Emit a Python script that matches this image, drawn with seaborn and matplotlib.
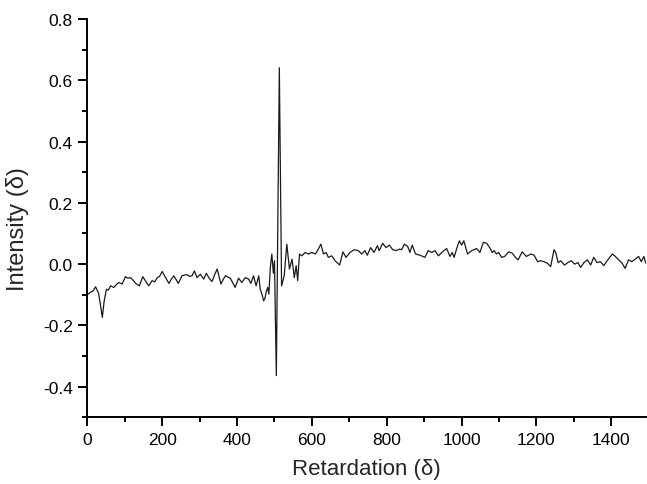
import matplotlib
matplotlib.use("Agg")
import matplotlib.pyplot as plt
from matplotlib.ticker import MultipleLocator
import seaborn as sns
import pandas as pd

retardation = [
    0, 8, 15, 22, 30, 36, 40, 45, 51, 56, 62, 71, 78, 84, 93, 102, 108, 115, 122, 129,
    139, 148, 155, 164, 173, 180, 187, 193, 200, 209, 218, 224, 231, 237, 243, 253, 262,
    267, 273, 280, 286, 293, 302, 311, 318, 325, 333, 340, 347, 352, 357, 363, 369, 375,
    382, 388, 395, 404, 413, 422, 431, 437, 444, 451, 458, 462, 467, 471, 475, 478, 482,
    485, 489, 493, 497, 500, 505, 513, 519,
    526, 533, 540, 547, 553, 558, 562, 567, 573, 582, 591, 600, 609, 615, 624, 631, 638,
    644, 653, 662, 674, 683, 691, 702, 713, 724, 733, 742, 748, 757, 766, 775, 780, 789,
    798, 807, 816, 825, 834, 840, 847, 856, 862, 868, 877, 889, 902, 911, 920, 929, 938,
    947, 960, 969, 975, 980, 987, 994, 1000, 1006, 1016, 1027, 1040, 1049, 1058, 1067,
    1075, 1082, 1087, 1093, 1099, 1107, 1115, 1126, 1135, 1144, 1151, 1162, 1173, 1185,
    1194, 1203, 1211, 1220, 1229, 1238, 1247, 1252, 1258, 1265, 1275, 1284, 1293, 1302,
    1311, 1318, 1327, 1336, 1345, 1353, 1362, 1371, 1380, 1389, 1403, 1411, 1422, 1428,
    1437, 1446, 1455, 1464, 1473, 1480, 1487, 1492,
]

intensity = [
    -0.100, -0.092, -0.088, -0.074, -0.095, -0.140, -0.174, -0.120, -0.082, -0.085,
    -0.071, -0.076, -0.066, -0.060, -0.065, -0.041, -0.046, -0.044, -0.052, -0.063,
    -0.071, -0.041, -0.054, -0.071, -0.054, -0.058, -0.044, -0.040, -0.024, -0.044,
    -0.063, -0.050, -0.038, -0.050, -0.063, -0.038, -0.035,
    -0.035, -0.040, -0.038, -0.022, -0.044, -0.033, -0.049, -0.030, -0.045, -0.057,
    -0.035, -0.016, -0.040, -0.065, -0.050, -0.038, -0.042, -0.046, -0.060, -0.076,
    -0.046, -0.060, -0.044, -0.049, -0.063, -0.038, -0.071, -0.038, -0.082, -0.100,
    -0.120, -0.110, -0.090, -0.076, -0.098, -0.011, 0.033, -0.030, 0.011, -0.364,
    0.641, -0.071,
    -0.038, 0.065, -0.016, 0.016, -0.044, -0.005, -0.054, 0.033, 0.027, 0.038, 0.033,
    0.038, 0.033, 0.044, 0.065, 0.033, 0.038, 0.022, 0.027, 0.011, -0.003, 0.040, 0.022,
    0.038, 0.047, 0.044, 0.033, 0.044, 0.029, 0.054, 0.038, 0.060, 0.044, 0.068, 0.054,
    0.062, 0.047, 0.044, 0.049, 0.047, 0.065, 0.058, 0.038, 0.062, 0.033, 0.029, 0.022,
    0.044, 0.038, 0.044, 0.027, 0.038, 0.051, 0.025, 0.038, 0.022, 0.051, 0.076, 0.062,
    0.076, 0.033, 0.044, 0.051, 0.038, 0.071, 0.068, 0.054, 0.038, 0.044, 0.033, 0.038,
    0.022, 0.025, 0.040, 0.036, 0.022, 0.014, 0.040, 0.025, 0.033, 0.029, 0.008, 0.011,
    0.008, 0.003, -0.008, 0.047, 0.036, 0.005, 0.011, -0.003, 0.005, 0.011, 0.000, 0.005,
    -0.011, 0.005, 0.014, -0.003, 0.022, 0.005, 0.008, -0.005, 0.011, 0.033, 0.025,
    0.011, 0.005, -0.014, 0.014, 0.008, 0.016, 0.025, 0.008, 0.025, 0.003,
]

x_label = "Retardation (\u03b4)"
y_label = "Intensity (\u03b4)"

sns.set_style("ticks")
plt.rcParams["font.family"] = ["Liberation Sans", "DejaVu Sans"]

df = pd.DataFrame({"x": retardation, "y": intensity})

fig = plt.figure(figsize=(6.47, 4.85), dpi=100)
ax = fig.add_axes([0.135, 0.1375, 0.863, 0.8213])

sns.lineplot(data=df, x="x", y="y", ax=ax, color="#1a1a1a", linewidth=0.9,
             estimator=None, sort=False)

ax.set_xlim(0, 1492)
ax.set_ylim(-0.5, 0.8)
ax.xaxis.set_major_locator(MultipleLocator(200))
ax.xaxis.set_minor_locator(MultipleLocator(100))
ax.yaxis.set_major_locator(MultipleLocator(0.2))
ax.yaxis.set_minor_locator(MultipleLocator(0.1))
ax.yaxis.set_major_formatter(plt.FuncFormatter(lambda v, p: f"{v:.1f}"))

for s in ["top", "right"]:
    ax.spines[s].set_visible(False)
for s in ["left", "bottom"]:
    ax.spines[s].set_linewidth(1.4)
    ax.spines[s].set_color("black")

ax.tick_params(axis="both", which="major", direction="out", length=6.5, width=1.4,
               labelsize=12.5, colors="black", pad=4)
ax.tick_params(axis="both", which="minor", direction="out", length=3.5, width=1.4,
               colors="black")

ax.set_xlabel(x_label, fontsize=16, labelpad=8)
ax.set_ylabel(y_label, fontsize=17)
ax.yaxis.set_label_coords(-0.105, 0.475)

fig.savefig("out.png", dpi=100)
